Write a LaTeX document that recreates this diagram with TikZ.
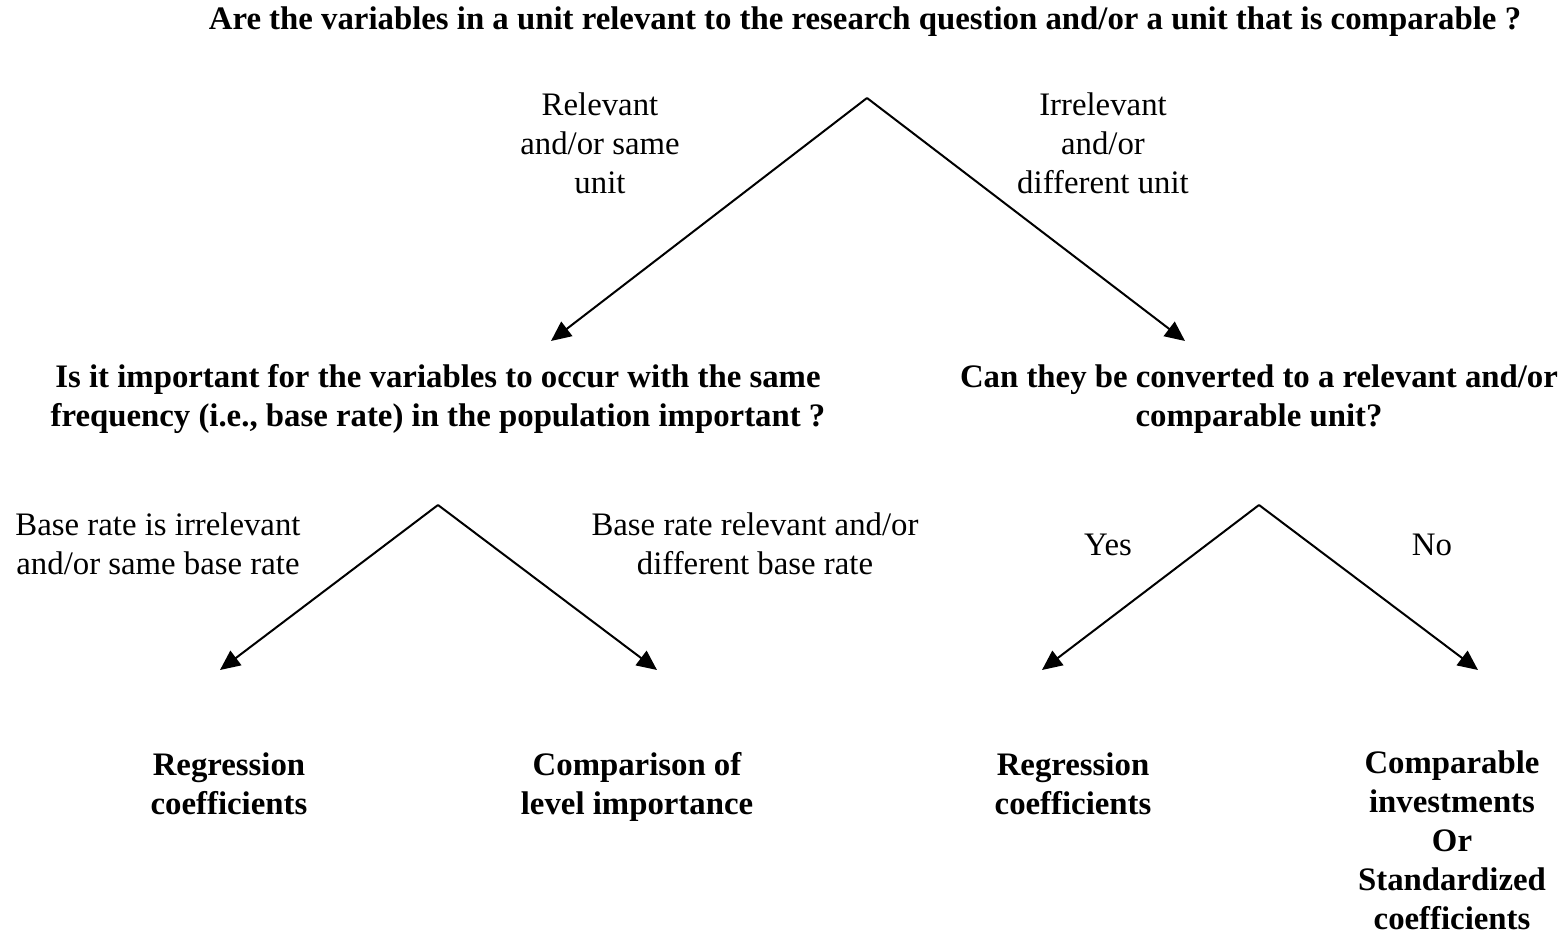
\documentclass[tikz,border=0pt]{standalone}
\usepackage{fontspec}
\setmainfont{Liberation Serif}
\usetikzlibrary{arrows.meta}
\begin{document}
\begin{tikzpicture}[x=0.5pt,y=-0.5pt,
  txt/.style={align=center,inner sep=0pt,font=\fontsize{16.4}{19.5}\selectfont},
  q/.style={txt,font=\fontsize{16.4}{19.5}\selectfont\bfseries},
  arr/.style={line width=1pt,-{Triangle[length=10pt,width=9pt]}}]
\useasboundingbox (0,0) rectangle (1568,935);
% questions
\node[q] (q0) at (865,22) {Are the variables in a unit relevant to the research question and/or a unit that is comparable ?};
\node[q] (q1) at (438,399) {Is it important for the variables to occur with the same\\frequency (i.e., base rate) in the population important ?};
\node[q] (q2) at (1259,399) {Can they be converted to a relevant and/or\\comparable unit?};
% apexes and tips
\coordinate (a0) at (867,98);
\coordinate (t01) at (551,341);
\coordinate (t02) at (1185,341);
\coordinate (a1) at (438,505);
\coordinate (t11) at (220,670);
\coordinate (t12) at (657,670);
\coordinate (a2) at (1259,505);
\coordinate (t21) at (1042,670);
\coordinate (t22) at (1478,670);
\draw[arr] (a0) -- (t01);
\draw[arr] (a0) -- (t02);
\draw[arr] (a1) -- (t11);
\draw[arr] (a1) -- (t12);
\draw[arr] (a2) -- (t21);
\draw[arr] (a2) -- (t22);
% branch labels
\node[txt] (l01) at (600,143) {Relevant\\and/or same\\unit};
\node[txt] (l02) at (1103,143) {Irrelevant\\and/or\\different unit};
\node[txt] (l11) at (158,544) {Base rate is irrelevant\\and/or same base rate};
\node[txt] (l12) at (755,544) {Base rate relevant and/or\\different base rate};
\node[txt] (l21) at (1108,545) {Yes};
\node[txt] (l22) at (1432,545) {No};
% leaves
\node[q] (r1) at (229,784) {Regression\\coefficients};
\node[q] (r2) at (637,787) {Comparison of\\level importance};
\node[q] (r3) at (1073,784) {Regression\\coefficients};
\node[q] (r4) at (1452,840) {Comparable\\investments\\Or\\Standardized\\coefficients};
\end{tikzpicture}
\end{document}
